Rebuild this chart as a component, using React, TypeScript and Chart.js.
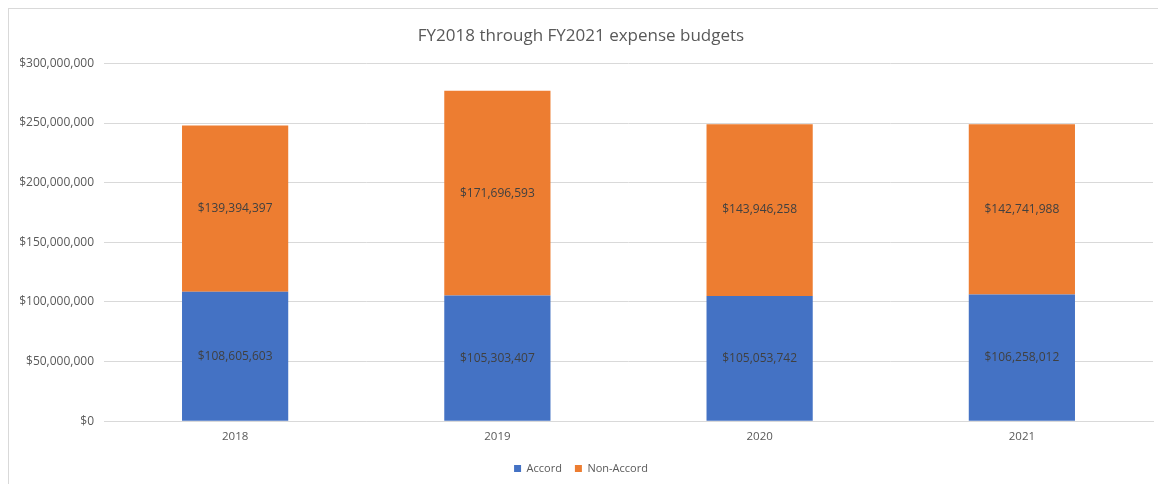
import React, { useEffect, useRef } from "react";
import { Chart, registerables } from "chart.js";

Chart.register(...registerables);

const categories = ["2018", "2019", "2020", "2021"];
const accord = [108605603, 105303407, 105053742, 106258012];
const nonAccord = [139394397, 171696593, 143946258, 142741988];
const seriesNames = ["Accord", "Non-Accord"];
const titleText = "FY2018 through FY2021 expense budgets";

const fmt = (v: number) => "$" + Math.round(v).toLocaleString("en-US");

const labelPlugin = {
  id: "barLabels",
  afterDatasetsDraw(chart: any) {
    const ctx = chart.ctx;
    ctx.save();
    ctx.font = "12px 'Open Sans'";
    ctx.fillStyle = "#404040";
    ctx.textAlign = "center";
    ctx.textBaseline = "middle";
    chart.data.datasets.forEach((ds: any, di: number) => {
      const meta = chart.getDatasetMeta(di);
      meta.data.forEach((bar: any, i: number) => {
        const y = (bar.y + bar.base) / 2;
        ctx.fillText(fmt(ds.data[i]), bar.x, y);
      });
    });
    ctx.restore();
  },
};

export default function App() {
  const ref = useRef<HTMLCanvasElement>(null);
  useEffect(() => {
    document.body.style.margin = "0";
    const chart = new Chart(ref.current!, {
      type: "bar",
      data: {
        labels: categories,
        datasets: [
          { label: seriesNames[0], data: accord, backgroundColor: "#4472C4" },
          { label: seriesNames[1], data: nonAccord, backgroundColor: "#ED7D31" },
        ],
      },
      options: {
        animation: false,
        responsive: false,
        maintainAspectRatio: false,
        layout: { padding: { left: 0, right: 5, top: 8, bottom: 0 } },
        datasets: { bar: { categoryPercentage: 0.405, barPercentage: 1 } },
        plugins: {
          title: {
            display: true,
            text: titleText,
            color: "#595959",
            font: { family: "'Open Sans'", size: 17, weight: "normal" },
            padding: { top: 9, bottom: 17 },
          },
          legend: {
            position: "bottom",
            labels: {
              boxWidth: 7,
              boxHeight: 7,
              color: "#595959",
              font: { family: "'Open Sans'", size: 11 },
              padding: 13,
            },
          },
          tooltip: { enabled: false },
        },
        scales: {
          x: {
            stacked: true,
            grid: { display: false },
            border: { display: true, color: "#d9d9d9" },
            ticks: { color: "#595959", font: { family: "'Open Sans'", size: 11.5 }, padding: 1 },
            afterFit: (s: any) => {
              s.height += 5;
            },
          },
          y: {
            stacked: true,
            min: 0,
            max: 300000000,
            ticks: {
              stepSize: 50000000,
              color: "#595959",
              font: { family: "'Open Sans'", size: 12 },
              padding: 10,
              callback: (v: any) => fmt(Number(v)),
            },
            grid: { color: "#d9d9d9", drawTicks: false },
            border: { display: false },
            afterFit: (s: any) => {
              s.width = 95;
            },
          },
        },
      },
      plugins: [labelPlugin],
    });
    return () => chart.destroy();
  }, []);
  return (
    <div
      style={{
        position: "absolute",
        left: 8,
        top: 8,
        width: 1150,
        height: 476,
        borderTop: "1px solid #d9d9d9",
        borderLeft: "1px solid #d9d9d9",
        boxSizing: "border-box",
        background: "#fff",
      }}
    >
      <canvas ref={ref} width={1149} height={475} style={{ display: "block" }} />
    </div>
  );
}
